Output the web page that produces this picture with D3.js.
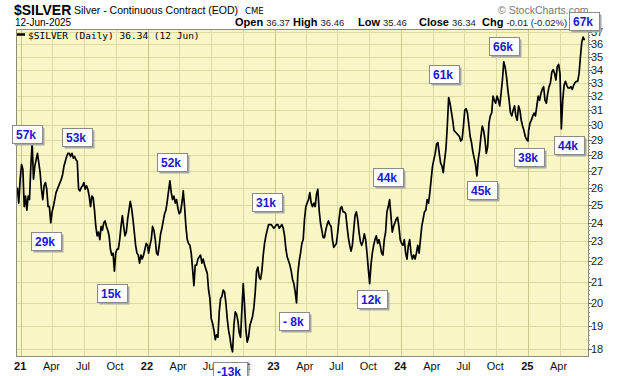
<!DOCTYPE html>
<html>
<head>
<meta charset="utf-8">
<script src="https://cdn.jsdelivr.net/npm/d3@7"></script>
<style>
  body { margin: 0; background: #fff; }
  svg { display: block; font-family: "Liberation Sans", Arial, sans-serif; }
</style>
</head>
<body>
<div id="chart"></div>
<script>
// closes, one list per calendar year (spread evenly over the span)
var silver2020 = [26.0, 25.1, 26.5]
var silver2021 = [
  27.4, 27.1, 24.9, 25.5, 24.7, 25.5, 25.3, 27.3, 28.8, 26.5,
  27.3, 27.7, 28.1, 27.5, 26.9, 25.9, 25.3, 26.1, 26.3, 25.9,
  24.9, 24.9, 24.0, 24.6, 24.9, 25.3, 25.7, 25.9, 26.1, 26.3,
  26.5, 26.8, 27.3, 27.6, 27.9, 28.1, 28.1, 27.9, 28.1, 27.8,
  27.9, 27.7, 27.6, 25.9, 25.8, 26.0, 26.1, 26.3, 25.9, 26.1,
  25.9, 25.5, 24.9, 25.5, 25.4, 24.7, 23.8, 23.3, 23.5, 23.1,
  23.8, 23.6, 24.0, 24.1, 23.8, 23.6, 23.3, 22.6, 22.3, 22.4,
  21.5, 22.4, 22.6, 22.6, 23.1, 23.8, 24.4, 23.8, 23.3, 23.5,
  24.2, 24.7, 25.2, 24.8, 24.2, 23.5, 22.8, 22.4, 22.3, 21.9,
  22.3, 22.1, 22.3, 22.6, 22.9, 22.8
]
var silver2022 = [
  22.4, 22.8, 23.1, 23.8, 23.6, 23.1, 22.4, 22.3, 22.8,
  23.4, 23.7, 24.1, 24.5, 24.7, 25.2, 25.8, 26.4, 25.7, 25.3,
  25.5, 25.1, 25.3, 24.8, 24.5, 24.6, 25.1, 25.8, 24.9, 23.8,
  23.1, 22.9, 22.8, 22.4, 21.6, 20.8, 21.8, 21.8, 22.1, 22.2,
  22.3, 21.9, 22.1, 21.8, 21.6, 21.4, 20.6, 20.2, 19.3, 19.1,
  18.8, 18.4, 18.6, 18.5, 19.6, 20.2, 20.3, 20.6, 20.5, 20.0,
  19.3, 18.8, 18.5, 18.1, 17.9, 19.0, 19.6, 19.5, 19.2, 18.7,
  18.5, 19.7, 20.9, 19.9, 18.8, 18.3, 18.5, 19.0, 19.2, 19.4,
  19.8, 20.5, 21.5, 21.7, 21.2, 21.1, 21.5, 22.3, 22.9, 23.3,
  23.6, 23.9, 23.9, 23.9, 23.8, 23.7
]
var silver2023 = [
  23.8, 23.9, 23.9, 23.7, 23.8, 23.9, 23.7, 23.3, 22.6, 22.2,
  22.0, 21.8, 21.5, 21.1, 20.9, 20.5, 20.0, 21.4, 22.0, 22.4,
  22.9, 23.1, 24.2, 24.9, 25.1, 25.3, 25.7, 25.1, 24.9, 25.1,
  24.9, 25.6, 25.9, 24.7, 24.0, 23.6, 23.2, 23.2, 23.6, 23.9,
  24.1, 23.9, 23.8, 23.1, 22.7, 22.8, 22.9, 23.5, 24.2, 24.8,
  24.9, 24.6, 24.6, 24.5, 23.8, 23.2, 22.8, 22.5, 22.8, 23.6,
  24.4, 24.6, 24.2, 23.5, 23.0, 22.8, 23.0, 23.4, 23.1, 22.4,
  21.6, 20.9, 21.8, 22.4, 22.8, 23.1, 23.3, 22.9, 23.1, 22.8,
  22.4, 22.3, 23.1, 23.5, 24.6, 24.9, 25.3, 24.4, 23.5, 23.8,
  24.0, 24.2, 24.3, 23.8, 23.1
]
var silver2024 = [
  22.9, 22.8, 23.1, 22.4, 22.1, 22.8, 23.1, 22.4, 22.1, 22.3,
  22.1, 22.4, 22.8, 22.4, 23.1, 23.8, 24.2, 24.6, 24.7, 25.3,
  25.1, 25.7, 26.5, 27.3, 27.7, 28.1, 28.7, 28.8, 28.1, 27.5,
  27.3, 26.9, 27.7, 28.4, 29.9, 31.9, 31.5, 30.9, 30.3, 29.6,
  29.5, 29.4, 29.3, 29.2, 28.9, 29.0, 29.9, 31.0, 31.1, 30.8,
  30.0, 29.2, 28.8, 28.2, 27.8, 27.4, 26.7, 27.7, 28.3, 29.2,
  29.9, 29.6, 29.0, 28.1, 28.5, 30.1, 30.6, 30.8, 32.0, 31.7,
  31.5, 32.0, 31.7, 31.3, 32.2, 33.2, 34.6, 34.2, 33.5, 32.5,
  31.7, 30.8, 30.6, 31.0, 31.3, 30.6, 30.3, 31.3, 31.0, 30.3,
  29.9, 29.6, 29.2, 29.0, 28.9
]
var silver2025 = [
  29.6, 30.1, 30.3, 30.6, 30.8, 30.6, 31.3, 32.0, 31.7, 32.2,
  32.5, 32.7, 31.7, 31.5, 32.2, 32.7, 33.0, 33.8, 34.0, 33.7,
  33.2, 34.2, 34.4, 33.7, 29.7, 31.7, 32.8, 33.1, 32.8, 32.6,
  32.6, 32.7, 32.5, 32.8, 33.0, 33.1, 33.1, 33.7, 35.0, 36.2,
  36.6, 36.34
]

var spans = [
  {from: '2020-12-21', to: '2020-12-29', values: silver2020},
  {from: '2021-01-02', to: '2021-12-31', values: silver2021},
  {from: '2022-01-03', to: '2022-12-30', values: silver2022},
  {from: '2023-01-03', to: '2023-12-29', values: silver2023},
  {from: '2024-01-02', to: '2024-12-31', values: silver2024},
  {from: '2025-01-02', to: '2025-06-12', values: silver2025}
]

var priceTicks = d3.range(18, 38)
var monthNames = {0: null, 3: 'Apr', 6: 'Jul', 9: 'Oct'}

// annotation boxes (net positions), anchored at top-left in date / price space
var noteLabels = ['57k', '53k', '29k', '52k', '15k', '-13k', '31k', '- 8k', '44k', '12k', '61k', '45k', '66k', '38k', '44k', '67k']
var noteDates = ['2020-12-05', '2021-04-28', '2021-01-29', '2022-01-27', '2021-08-07', '2022-07-07', '2022-10-28', '2023-01-13',
                 '2023-10-11', '2023-08-26', '2024-03-21', '2024-07-08', '2024-09-10', '2024-11-21', '2025-03-16', '2025-04-28']
var noteLevels = [30.0, 29.8, 23.5, 28.1, 20.9, 17.5, 25.7, 19.6, 27.2, 20.6, 34.35, 26.4, 36.6, 28.45, 29.2, 38.75]

var quoteLabels = ['Open', 'High', 'Low', 'Close', 'Chg']
var quoteValues = ['36.37', '36.46', '35.46', '36.34', '-0.01 (-0.02%)']

var parseDate = d3.timeParse('%Y-%m-%d')

// flatten the yearly lists into dated points
var data = []
spans.forEach(function(s) {
    var t0 = parseDate(s.from).getTime(), t1 = parseDate(s.to).getTime()
    var n = s.values.length
    s.values.forEach(function(v, i) {
        var t = n > 1 ? t0 + (t1 - t0) * i / (n - 1) : t0
        data.push({date: new Date(t), close: v})
    })
})

var W = 620, H = 376
var m = {left: 16, right: 32, top: 29, bottom: 20}

var svg = d3.select('#chart').append('svg')
    .attr('width', W)
    .attr('height', H)

// scales: StockCharts draws price on a log axis
var x = d3.scaleTime()
    .domain([new Date(2020, 11, 17), new Date(2025, 5, 22)])
    .range([m.left, W - m.right])
var y = d3.scaleLog()
    .domain([17.73, 37.28])
    .range([H - m.bottom, m.top])

// plot background
svg.append('rect')
    .attr('x', m.left).attr('y', m.top)
    .attr('width', W - m.right - m.left)
    .attr('height', H - m.bottom - m.top)
    .attr('fill', '#f9f6c6')

// horizontal grid
svg.append('g').selectAll('line')
    .data(priceTicks)
    .enter().append('line')
    .attr('x1', m.left).attr('x2', W - m.right)
    .attr('y1', function(d) { return Math.round(y(d)) + 0.5 })
    .attr('y2', function(d) { return Math.round(y(d)) + 0.5 })
    .attr('stroke', '#dcd9a2')

// vertical grid at each quarter, year lines a bit darker
var quarters = d3.timeMonth.every(3).range(new Date(2021, 0, 1), new Date(2025, 5, 1))
svg.append('g').selectAll('line')
    .data(quarters)
    .enter().append('line')
    .attr('x1', function(d) { return Math.round(x(d)) + 0.5 })
    .attr('x2', function(d) { return Math.round(x(d)) + 0.5 })
    .attr('y1', m.top).attr('y2', H - m.bottom)
    .attr('stroke', function(d) { return d.getMonth() == 0 ? '#c9c68e' : '#dcd9a2' })

// price line
var line = d3.line()
    .x(function(d) { return x(d.date) })
    .y(function(d) { return y(d.close) })

svg.append('path')
    .datum(data)
    .attr('d', line)
    .attr('fill', 'none')
    .attr('stroke', '#000')
    .attr('stroke-width', 1.7)
    .attr('stroke-linejoin', 'round')

// plot frame
svg.append('rect')
    .attr('x', m.left + 0.5).attr('y', m.top + 0.5)
    .attr('width', W - m.right - m.left)
    .attr('height', H - m.bottom - m.top)
    .attr('fill', 'none')
    .attr('stroke', '#8c8c7a')

// right axis: major + minor ticks and labels
var minor = d3.range(18, 37.3, 0.2)
svg.append('g').selectAll('line')
    .data(minor)
    .enter().append('line')
    .attr('x1', W - m.right).attr('x2', W - m.right + 2)
    .attr('y1', function(d) { return Math.round(y(d)) + 0.5 })
    .attr('y2', function(d) { return Math.round(y(d)) + 0.5 })
    .attr('stroke', '#999')

svg.append('g').selectAll('line')
    .data(priceTicks)
    .enter().append('line')
    .attr('x1', W - m.right).attr('x2', W - m.right + 4)
    .attr('y1', function(d) { return Math.round(y(d)) + 0.5 })
    .attr('y2', function(d) { return Math.round(y(d)) + 0.5 })
    .attr('stroke', '#666')

svg.append('g').selectAll('text')
    .data(priceTicks)
    .enter().append('text')
    .attr('x', W - m.right + 3)
    .attr('y', function(d) { return y(d) + 4 })
    .attr('font-size', 11)
    .attr('fill', '#222')
    .text(function(d) { return d })

// bottom axis labels
svg.append('g').selectAll('text')
    .data(quarters)
    .enter().append('text')
    .attr('x', function(d) { return x(d) - 1 })
    .attr('y', H - 6)
    .attr('text-anchor', 'middle')
    .attr('font-size', 11)
    .attr('font-weight', function(d) { return d.getMonth() == 0 ? 'bold' : 'normal' })
    .attr('fill', '#111')
    .text(function(d) { return monthNames[d.getMonth()] || d3.timeFormat('%y')(d) })

// header
svg.append('text')
    .attr('x', 14).attr('y', 15)
    .attr('font-size', 14).attr('font-weight', 'bold')
    .text('$SILVER')
svg.append('text')
    .attr('x', 74).attr('y', 14)
    .attr('font-size', 10.5)
    .text('Silver - Continuous Contract (EOD)')
svg.append('text')
    .attr('x', 245).attr('y', 14)
    .attr('font-size', 8.5).attr('font-family', 'DejaVu Sans')
    .text('CME')
svg.append('text')
    .attr('x', 15).attr('y', 25.5)
    .attr('font-size', 10)
    .text('12-Jun-2025')
svg.append('text')
    .attr('x', 498).attr('y', 14)
    .attr('font-size', 10.5)
    .attr('fill', '#777')
    .text('\u00a9 StockCharts.com')

var quoteX = [235, 293, 358, 419, 482]
quoteLabels.forEach(function(lab, i) {
    var t = svg.append('text')
        .attr('x', quoteX[i]).attr('y', 25.5)
        .attr('font-size', 11)
    t.append('tspan').attr('font-weight', 'bold').text(lab)
    t.append('tspan').attr('dx', 3).attr('font-size', 9.5).attr('fill', '#222').text(quoteValues[i])
})

// legend inside the plot
svg.append('line')
    .attr('x1', 17).attr('x2', 25)
    .attr('y1', 34.5).attr('y2', 34.5)
    .attr('stroke', '#000').attr('stroke-width', 2.5)
svg.append('text')
    .attr('x', 28).attr('y', 38.5)
    .attr('font-family', '"DejaVu Sans Mono", monospace')
    .attr('font-size', 9.5)
    .text('$SILVER (Daily) 36.34 (12 Jun)')

// annotation boxes
var notes = noteLabels.map(function(t, i) {
    return {text: t, date: parseDate(noteDates[i]), level: noteLevels[i]}
})
var ng = svg.append('g').selectAll('g')
    .data(notes)
    .enter().append('g')
    .attr('transform', function(d) { return 'translate(' + Math.round(x(d.date)) + ',' + Math.round(y(d.level)) + ')' })

ng.append('text')
    .attr('class', 'note')
    .attr('x', 4).attr('y', 13.5)
    .attr('font-size', 12).attr('font-weight', 'bold')
    .attr('fill', '#1b1bcc')
    .text(function(d) { return d.text })

ng.each(function() {
    var g = d3.select(this)
    var w = Math.ceil(g.select('text').node().getComputedTextLength()) + 9
    g.insert('rect', 'text')
        .attr('x', 2.5).attr('y', 2.5).attr('width', w).attr('height', 18)
        .attr('fill', '#a8a8a8')
    g.insert('rect', 'text')
        .attr('x', 0.5).attr('y', 0.5).attr('width', w).attr('height', 18)
        .attr('fill', '#fff').attr('stroke', '#8a8a8a')
})
</script>
</body>
</html>
